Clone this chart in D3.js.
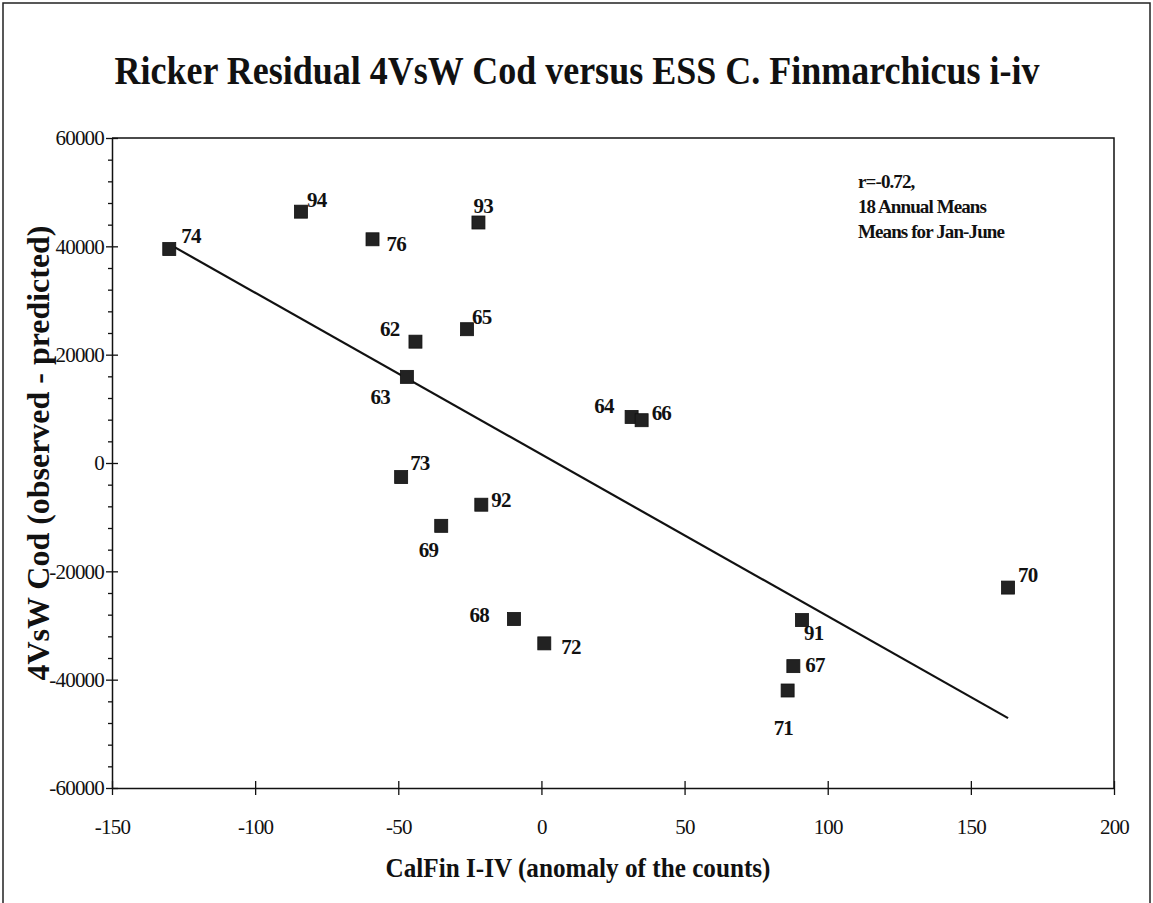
<!DOCTYPE html>
<html>
<head>
<meta charset="utf-8">
<script src="https://cdn.jsdelivr.net/npm/d3@7/dist/d3.min.js"></script>
<style>
  html, body { margin: 0; padding: 0; background: #fff; }
  svg { display: block; }
  text { font-family: "Liberation Serif", "Times New Roman", serif; fill: #111; }
</style>
</head>
<body>
<svg id="chart" width="1153" height="903"></svg>
<script>
// Year labels and the two coordinates of each annual mean
const years    = ["74", "94", "76", "93", "62", "65", "63", "64", "66", "73", "92", "69", "68", "72", "70", "91", "67", "71"];
const calFin   = [-130, -84, -59, -22, -44, -26, -47, 31.5, 35, -49, -21, -35, -9.6, 1, 163, 91, 88, 86];
const codResid = [39500, 46400, 41300, 44400, 22400, 24700, 15900, 8500, 7900, -2600, -7700, -11600, -28800, -33300, -23000, -29000, -37500, -42000];

// Fitted regression line end points
const fitX = [-130, 163];
const fitY = [40400, -47100];

// Axis ticks
const xTicks = [-150, -100, -50, 0, 50, 100, 150, 200];
const yTicks = [60000, 40000, 20000, 0, -20000, -40000, -60000];
const yMinorStep = 4000;

const titleText = "Ricker Residual 4VsW Cod versus ESS C. Finmarchicus i-iv";
const xTitle = "CalFin I-IV (anomaly of the counts)";
const yTitle = "4VsW Cod (observed - predicted)";
const noteLines = ["r=-0.72,", "18 Annual Means", "Means for Jan-June"];

// Where each year label sits relative to its marker: [dx, dy, anchor]
const labelPlace = {
  "74": [12, -6, "start"], "94": [6, -5, "start"], "76": [14, 12, "start"],
  "93": [-5, -10, "start"], "62": [-16, -6, "end"], "65": [5, -5, "start"],
  "63": [-17, 27, "end"], "64": [-18, -4, "end"], "66": [10, 0, "start"],
  "73": [9, -7, "start"], "92": [10, 2, "start"], "69": [-3, 31, "end"],
  "68": [-25, 3, "end"], "72": [17, 11, "start"], "70": [10, -6, "start"],
  "91": [2, 20, "start"], "67": [12, 6, "start"], "71": [-14, 44, "start"]
};

const svg = d3.select("#chart");
const W = 1153, H = 903;
const plot = { left: 112, right: 1114, top: 138, bottom: 788 };
const fmt = v => String(v);   // plain hyphen-minus, as printed

// Outer frame
svg.append("rect")
  .attr("x", 3).attr("y", 3).attr("width", W - 6).attr("height", H + 10)
  .attr("fill", "none").attr("stroke", "#222").attr("stroke-width", 1.5);

const x = d3.scaleLinear().domain([-150, 200]).range([plot.left, plot.right]);
const y = d3.scaleLinear().domain([-60000, 60000]).range([plot.bottom, plot.top]);

// Plot box: top and right edges
svg.append("path")
  .attr("d", `M${plot.left},${plot.top}H${plot.right}V${plot.bottom}`)
  .attr("fill", "none").attr("stroke", "#111").attr("stroke-width", 1.5);

// Y axis: minor ticks outside, major ticks crossing the line
const yMinor = d3.range(-60000, 60001, yMinorStep).filter(v => !yTicks.includes(v));
svg.append("g")
  .attr("transform", `translate(${plot.left},0)`)
  .call(d3.axisLeft(y).tickValues(yMinor).tickSize(4).tickFormat(""))
  .call(g => g.select(".domain").remove())
  .call(g => g.selectAll("line").attr("stroke", "#111").attr("stroke-width", 1.3));

const yAxis = svg.append("g")
  .attr("transform", `translate(${plot.left},0)`)
  .call(d3.axisLeft(y).tickValues(yTicks).tickSize(6).tickSizeOuter(0).tickPadding(8).tickFormat(fmt));
yAxis.select(".domain").attr("stroke", "#111").attr("stroke-width", 1.5);
yAxis.selectAll(".tick line").attr("stroke", "#111").attr("stroke-width", 1.3).attr("x2", 6).attr("x1", -6);
yAxis.selectAll(".tick text")
  .attr("x", -8)
  .style("font-family", "Liberation Serif")
  .style("font-size", "21px").style("letter-spacing", "-0.8px").attr("fill", "#111");

// X axis: major ticks crossing the line
const xAxis = svg.append("g")
  .attr("transform", `translate(0,${plot.bottom})`)
  .call(d3.axisBottom(x).tickValues(xTicks).tickSize(7).tickSizeOuter(0).tickPadding(24).tickFormat(fmt));
xAxis.select(".domain").attr("stroke", "#111").attr("stroke-width", 1.5);
xAxis.selectAll(".tick line").attr("stroke", "#111").attr("stroke-width", 1.3).attr("y1", -7).attr("y2", 7);
xAxis.selectAll(".tick text")
  .style("font-family", "Liberation Serif")
  .style("font-size", "21px").style("letter-spacing", "-0.8px").attr("fill", "#111");

// Regression line
svg.append("line")
  .attr("x1", x(fitX[0])).attr("y1", y(fitY[0]))
  .attr("x2", x(fitX[1])).attr("y2", y(fitY[1]))
  .attr("stroke", "#111").attr("stroke-width", 2.2);

// Points
const pts = years.map((yr, i) => ({ yr, cx: calFin[i], cy: codResid[i] }));
const sq = 13;
svg.append("g").selectAll("rect").data(pts).join("rect")
  .attr("x", d => x(d.cx) - sq / 2).attr("y", d => y(d.cy) - sq / 2)
  .attr("width", sq).attr("height", sq)
  .attr("fill", "#222").attr("stroke", "#111").attr("stroke-width", 0.8);

svg.append("g").selectAll("text").data(pts).join("text")
  .attr("x", d => x(d.cx) + labelPlace[d.yr][0])
  .attr("y", d => y(d.cy) + labelPlace[d.yr][1])
  .attr("text-anchor", d => labelPlace[d.yr][2])
  .style("font-size", "21px").style("font-weight", "bold")
  .style("letter-spacing", "-0.8px")
  .text(d => d.yr);

// Title
svg.append("text")
  .attr("x", 577).attr("y", 84).attr("text-anchor", "middle")
  .attr("textLength", 925).attr("lengthAdjust", "spacingAndGlyphs")
  .style("font-size", "40px").style("font-weight", "bold")
  .text(titleText);

// Axis titles
svg.append("text")
  .attr("x", 578).attr("y", 877).attr("text-anchor", "middle")
  .attr("textLength", 385).attr("lengthAdjust", "spacingAndGlyphs")
  .style("font-size", "28px").style("font-weight", "bold")
  .text(xTitle);

svg.append("text")
  .attr("transform", `translate(49,453) rotate(-90)`)
  .attr("text-anchor", "middle")
  .attr("textLength", 455).attr("lengthAdjust", "spacingAndGlyphs")
  .style("font-size", "31px").style("font-weight", "bold")
  .text(yTitle);

// Statistics note
svg.append("g").selectAll("text").data(noteLines).join("text")
  .attr("x", 858).attr("y", (d, i) => 188 + i * 25)
  .style("font-size", "19px").style("font-weight", "bold").style("letter-spacing", "-0.9px")
  .text(d => d);
</script>
</body>
</html>
